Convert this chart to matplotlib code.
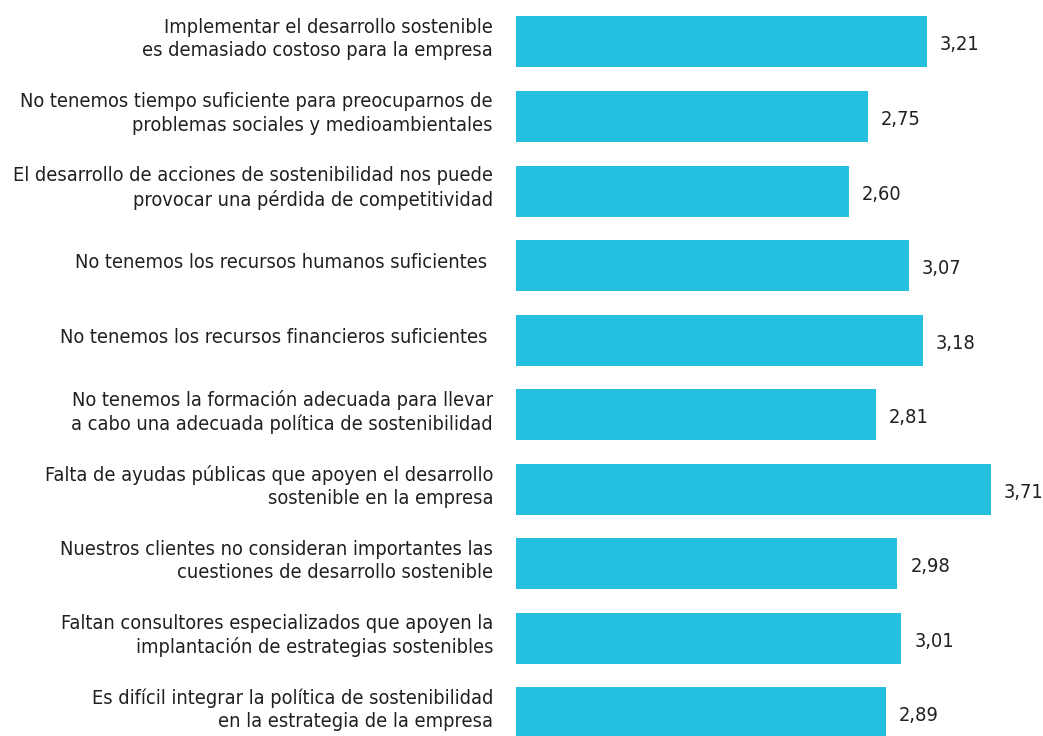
import os
import matplotlib
matplotlib.use("Agg")
import matplotlib.pyplot as plt
from matplotlib import font_manager
from matplotlib.font_manager import FontProperties

categories = [
    "Implementar el desarrollo sostenible\nes demasiado costoso para la empresa",
    "No tenemos tiempo suficiente para preocuparnos de\nproblemas sociales y medioambientales",
    "El desarrollo de acciones de sostenibilidad nos puede\nprovocar una pérdida de competitividad",
    "No tenemos los recursos humanos suficientes ",
    "No tenemos los recursos financieros suficientes ",
    "No tenemos la formación adecuada para llevar\na cabo una adecuada política de sostenibilidad",
    "Falta de ayudas públicas que apoyen el desarrollo\nsostenible en la empresa",
    "Nuestros clientes no consideran importantes las\ncuestiones de desarrollo sostenible",
    "Faltan consultores especializados que apoyen la\nimplantación de estrategias sostenibles",
    "Es difícil integrar la política de sostenibilidad\nen la estrategia de la empresa",
]
values = [3.21, 2.75, 2.60, 3.07, 3.18, 2.81, 3.71, 2.98, 3.01, 2.89]

# find a condensed font
fpath = None
files = font_manager.findSystemFonts()
prefs = ["liberationsansnarrow-regular", "dejavusanscondensed.ttf",
         "robotocondensed-regular", "opensans_condensed-regular",
         "opensanscondensed-regular"]
for p in prefs:
    for f in files:
        if os.path.basename(f).lower().startswith(p) or os.path.basename(f).lower() == p:
            fpath = f
            break
    if fpath:
        break

def fp(size):
    if fpath:
        return FontProperties(fname=fpath, size=size)
    return FontProperties(family="DejaVu Sans", size=size)

W, H = 1043, 736
fig = plt.figure(figsize=(W/100, H/100), dpi=100)
left = 516 / W
ax = fig.add_axes([left, 0, 1 - left, 1])

# calibrate font size so the first label line is ~328 px wide
r = fig.canvas.get_renderer()
t = fig.text(0, 0, "Implementar el desarrollo sostenible", fontproperties=fp(15))
wpx = t.get_window_extent(r).width
t.remove()
size = 15 * 328.0 / wpx
size = min(size, 16.5)

spacing = 74.55
c0 = 42
pos = list(range(len(values)))
ax.barh(pos, values, height=51/spacing, color="#25C0E0", edgecolor="none")
ax.set_ylim((H - c0) / spacing, -c0 / spacing)
ax.set_xlim(0, (W - 516) / 128.0)

for i, v in enumerate(values):
    ax.annotate(f"{v:.2f}".replace(".", ","), xy=(v, i), xytext=(13, -3),
                textcoords="offset pixels", va="center", ha="left",
                fontproperties=fp(size), color="#231f20")

for i, c in enumerate(categories):
    ax.annotate(c, xy=(0, i), xytext=(-23, 3), textcoords="offset pixels",
                va="center", ha="right", fontproperties=fp(size),
                color="#231f20", linespacing=1.28, annotation_clip=False)

ax.set_yticks([])
ax.set_xticks([])
for s in ax.spines.values():
    s.set_visible(False)

fig.savefig("out.png", dpi=100, facecolor="white")
